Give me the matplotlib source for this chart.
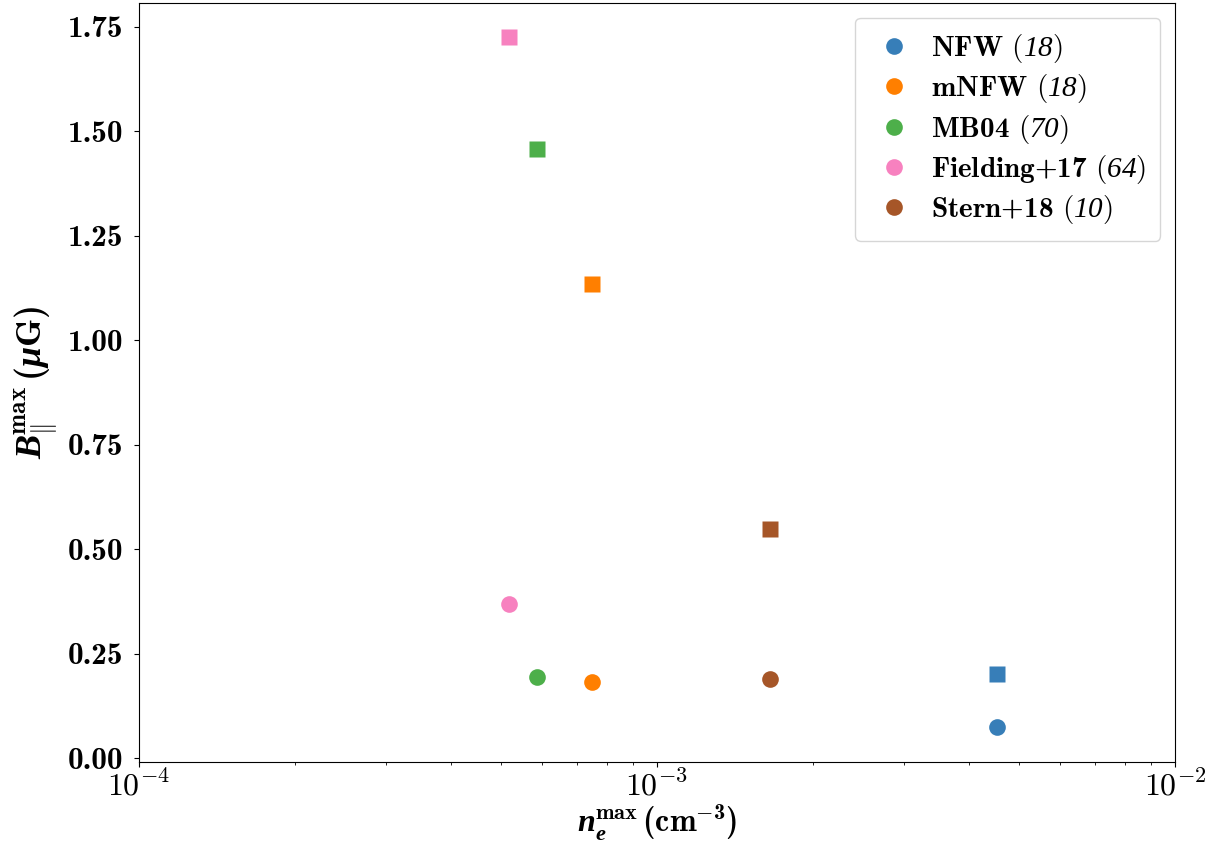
import matplotlib
matplotlib.use("Agg")
import matplotlib.pyplot as plt

plt.rcParams["mathtext.fontset"] = "cm"
plt.rcParams["mathtext.rm"] = "cmr10"
plt.rcParams["mathtext.bf"] = "cmb10"
plt.rcParams["mathtext.sf"] = "Liberation Serif:italic"
plt.rcParams["mathtext.bfit"] = "Liberation Serif:italic:bold"
plt.rcParams["font.family"] = "serif"
plt.rcParams["font.serif"] = ["DejaVu Serif"]

models = ["NFW", "mNFW", "MB04", "Fielding+17", "Stern+18"]
counts = ["18", "18", "70", "64", "10"]
colors = ["#377eb8", "#ff7f00", "#4daf4a", "#f781bf", "#a65628"]

# n_e^max (cm^-3) per model
ne_max = [4.54e-3, 7.48e-4, 5.86e-4, 5.17e-4, 1.655e-3]
# B_par^max (muG): circles and squares
b_circle = [0.074, 0.182, 0.194, 0.369, 0.189]
b_square = [0.201, 1.134, 1.458, 1.724, 0.549]

yticks = [0.00, 0.25, 0.50, 0.75, 1.00, 1.25, 1.50, 1.75]
xticks = [1e-4, 1e-3, 1e-2]
xticklabels = [r"$10^{-4}$", r"$10^{-3}$", r"$10^{-2}$"]

fig = plt.figure(figsize=(12.28, 8.49), dpi=100)
ax = fig.add_axes([0.1132, 0.1025, 0.8436, 0.894])

for name, n, c, x, yc, ys in zip(models, counts, colors, ne_max, b_circle, b_square):
    label = r"$\mathbf{%s}\ \mathrm{(}\mathsf{%s}\mathrm{)}$" % (name.replace("+", "{+}"), n)
    ax.plot(x, yc, "o", color=c, ms=12, mec="none", label=label)
    ax.plot(x, ys, "s", color=c, ms=12, mec="none")

ax.set_xscale("log")
ax.set_xlim(1e-4, 1e-2)
ax.set_xticks(xticks, labels=xticklabels, fontsize=23)
ax.set_yticks(yticks, labels=["%.2f" % v for v in yticks],
              fontfamily="cmb10", fontsize=22.5)
ax.tick_params(axis="y", pad=8)
ax.tick_params(axis="x", pad=3)

ax.set_xlabel(r"$\mathbfit{n}_{\mathbfit{e}}^{\mathbf{max}}\,\mathbf{(cm}^{\mathbf{-3}}\mathbf{)}$",
              fontsize=23, labelpad=-1, math_fontfamily="custom")
ax.set_ylabel(r"$\mathbfit{B}_{\|}^{\mathbf{max}}\,\mathbf{(}\mathbfit{\mu}\mathbf{G)}$",
              fontsize=26, labelpad=6, math_fontfamily="custom")

leg = ax.legend(loc="upper right", fontsize=21, handlelength=1.7, handletextpad=0.4,
                borderpad=0.5, labelspacing=0.25)
for t in leg.get_texts():
    t.set_math_fontfamily("custom")

fig.savefig("out.png", dpi=100)
